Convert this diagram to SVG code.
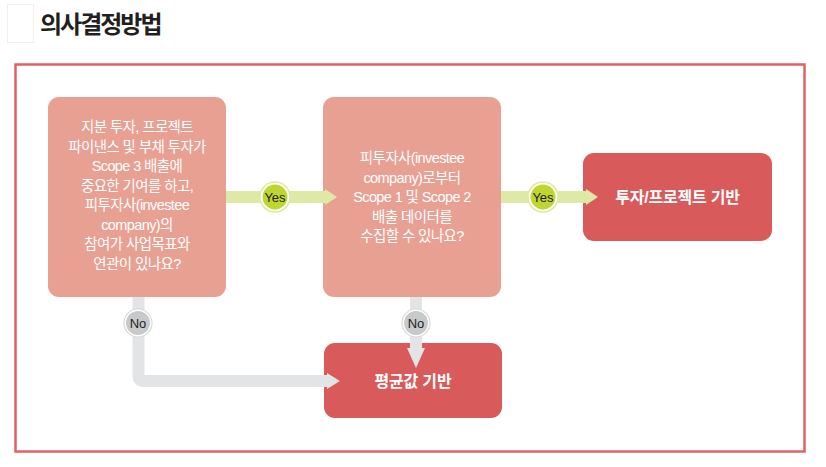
<svg xmlns="http://www.w3.org/2000/svg" width="826" height="467" viewBox="0 0 826 467">
<style>
text{font-family:"Liberation Sans","Noto Sans CJK KR",sans-serif}
.q{fill:#e8a093}
.r{fill:#d95a5a}
.t{fill:#fff;font-size:14.5px;text-anchor:middle;letter-spacing:-0.6px}
.b{font-weight:bold;font-size:16px;letter-spacing:-0.2px}
.yes{fill:#dde9a4}
.no{fill:#e3e4e5}
.lbl{font-size:13px;text-anchor:middle;fill:#222}
</style>
<rect width="826" height="467" fill="#fff"/>
<rect x="7.5" y="4.5" width="26" height="38" fill="none" stroke="#f7ecec" stroke-width="1"/>
<text x="40" y="33" font-size="24" font-weight="bold" fill="#231f20" letter-spacing="-2" style="font-family:'Noto Sans CJK KR',sans-serif">의사결정방법</text>
<rect x="15.5" y="64.5" width="789" height="387" fill="none" stroke="#e06264" stroke-width="2.5"/>
<g id="n1">
<rect class="q" x="48" y="97" width="178" height="200" rx="11"/>
<text class="t"><tspan x="137" y="132">지분 투자, 프로젝트</tspan><tspan x="137" y="151.5">파이낸스 및 부채 투자가</tspan><tspan x="137" y="171">Scope 3 배출에</tspan><tspan x="137" y="190.5">중요한 기여를 하고,</tspan><tspan x="137" y="210">피투자사(investee</tspan><tspan x="137" y="229.5">company)의</tspan><tspan x="137" y="249">참여가 사업목표와</tspan><tspan x="137" y="268.5">연관이 있나요?</tspan></text>
</g>
<g id="n2">
<rect class="q" x="323" y="97" width="178" height="200" rx="11"/>
<text class="t"><tspan x="412" y="163">피투자사(investee</tspan><tspan x="412" y="182.5">company)로부터</tspan><tspan x="412" y="202">Scope 1 및 Scope 2</tspan><tspan x="412" y="221.5">배출 데이터를</tspan><tspan x="412" y="241">수집할 수 있나요?</tspan></text>
</g>
<g id="n3">
<rect class="r" x="583" y="153" width="189" height="88" rx="11"/>
<text class="t b" x="677.5" y="202.5">투자/프로젝트 기반</text>
</g>
<g id="n4">
<rect class="r" x="324" y="343" width="178" height="75" rx="11"/>
<text class="t b" x="413" y="386.5">평균값 기반</text>
</g>
<g id="connectors">
<path class="yes" d="M226 191 H325 V189 L337 197 L325 205 V203 H226 Z"/>
<path class="yes" d="M501 191 H586 V189 L598 197 L586 205 V203 H501 Z"/>
<path class="no" d="M132.5 297 H144.5 V375 H327 V373 L340 381 L327 389 V387 H142.5 A10 10 0 0 1 132.5 377 Z"/>
<path class="no" d="M410 297 H422 V348 H425 L416 368 L407 348 H410 Z"/>
<g>
<circle cx="275" cy="197" r="15" fill="#fff" stroke="#dfe9a0" stroke-width="1.5"/>
<circle cx="275" cy="197" r="12.5" fill="#bfd62f"/>
<text class="lbl" x="275" y="201.5">Yes</text>
</g>
<g>
<circle cx="543" cy="197" r="15" fill="#fff" stroke="#dfe9a0" stroke-width="1.5"/>
<circle cx="543" cy="197" r="12.5" fill="#bfd62f"/>
<text class="lbl" x="543" y="201.5">Yes</text>
</g>
<g>
<circle cx="138" cy="323" r="14" fill="#fff" stroke="#d8d9da" stroke-width="1.2"/>
<circle cx="138" cy="323" r="12" fill="#c8c9ca"/>
<text class="lbl" x="138" y="327.5" fill="#333">No</text>
</g>
<g>
<circle cx="416" cy="323" r="14" fill="#fff" stroke="#d8d9da" stroke-width="1.2"/>
<circle cx="416" cy="323" r="12" fill="#c8c9ca"/>
<text class="lbl" x="416" y="327.5" fill="#333">No</text>
</g>
</g>
</svg>
